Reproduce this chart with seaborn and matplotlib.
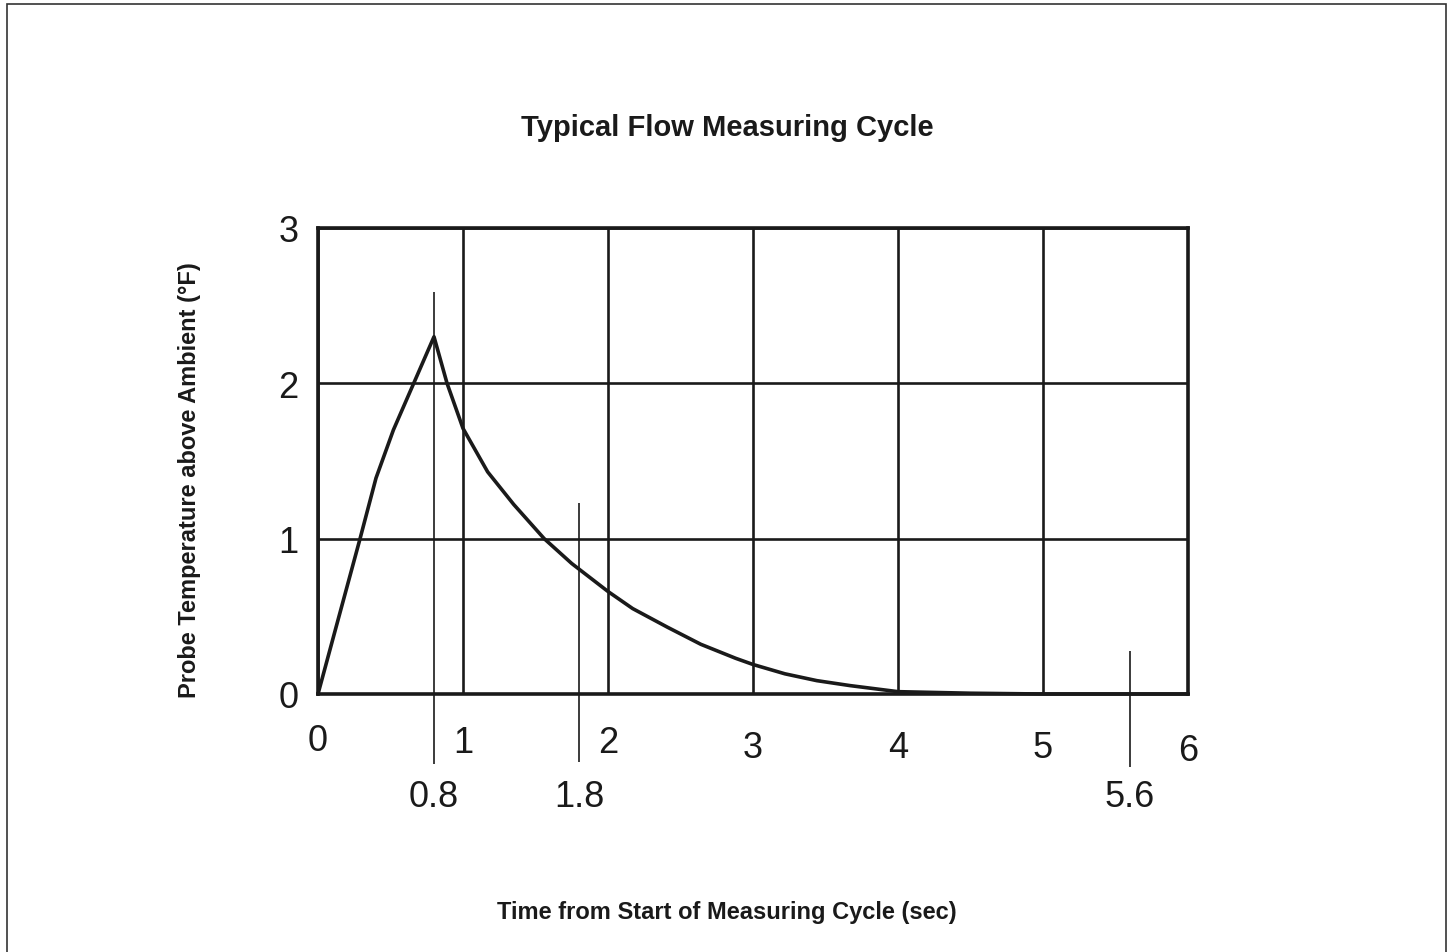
import numpy as np
import pandas as pd
import matplotlib
matplotlib.use("Agg")
import matplotlib.pyplot as plt
import matplotlib.transforms as mtransforms
from matplotlib.patches import Rectangle
import seaborn as sns

sns.set_theme(style="white")
plt.rcParams['font.family'] = ['Liberation Sans', 'DejaVu Sans']

# Data: heating ramp, then cool-down
time_sec = [0.0, 0.11, 0.29, 0.40, 0.52, 0.66, 0.8,
            0.89, 1.0, 1.17, 1.35, 1.56, 1.75, 2.0, 2.17, 2.41, 2.64,
            2.88, 3.0, 3.22, 3.44, 3.67, 3.89, 4.0, 4.5, 5.0, 5.5, 6.0]
temp_f = [0.0, 0.38, 1.0, 1.39, 1.70, 2.0, 2.3,
          2.0, 1.71, 1.43, 1.22, 1.0, 0.84, 0.66, 0.55, 0.43, 0.32,
          0.23, 0.19, 0.13, 0.086, 0.054, 0.028, 0.015, 0.005, 0.0, 0.0, 0.0]

x_ticks = [0, 1, 2, 3, 4, 5, 6]
y_ticks = [0, 1, 2, 3]
# extra markers: time, top of line, bottom of line
mark_times = [0.8, 1.8, 5.6]
mark_labels = ['0.8', '1.8', '5.6']
mark_tops = [2.59, 1.23, 0.28]
mark_bottoms = [-0.45, -0.44, -0.47]

df = pd.DataFrame({'time': time_sec, 'temp': temp_f})

fig = plt.figure(figsize=(14.52, 9.53), dpi=100)
ax = fig.add_axes([318/1452, 1-695/953, (1188-318)/1452, (695-229)/953])

sns.lineplot(data=df, x='time', y='temp', ax=ax, color='#1a1a1a',
             linewidth=2.6, clip_on=False, zorder=4,
             solid_joinstyle='round', solid_capstyle='round')

ax.set_xlim(0, 6)
ax.set_ylim(0, 3)
ax.set_xticks(x_ticks)
ax.set_yticks(y_ticks)
ax.set_xticklabels([str(v) for v in x_ticks], fontsize=26, color='#1a1a1a')
ax.set_yticklabels([str(v) for v in y_ticks], fontsize=26, color='#1a1a1a')
ax.tick_params(axis='both', length=0)
ax.tick_params(axis='x', pad=21)
ax.tick_params(axis='y', pad=14)
ax.set_xlabel('')
ax.set_ylabel('')

# labels sag a little to the right, as in the drawing
offsets = [0, 2, 2, 7, 7, 7, 10]
for lbl, dy in zip(ax.get_xticklabels(), offsets):
    lbl.set_transform(lbl.get_transform() +
                      mtransforms.ScaledTranslation(0, -dy/100, fig.dpi_scale_trans))

ax.grid(True, color='#1a1a1a', linewidth=1.9)
for s in ax.spines.values():
    s.set_color('#1a1a1a')
    s.set_linewidth(2.6)

# marker lines and labels below the axis
ax.vlines(mark_times, mark_bottoms, mark_tops, color='#1a1a1a',
          linewidth=1.2, clip_on=False, zorder=3)
for t, lab in zip(mark_times, mark_labels):
    ax.text(t, -0.66, lab, ha='center', va='center', fontsize=26,
            color='#1a1a1a', clip_on=False)

# titles
fig.text(727/1452, 1-128/953, 'Typical Flow Measuring Cycle', ha='center',
         va='center', fontsize=21, fontweight='bold', color='#1a1a1a')
fig.text(727/1452, 1-913/953, 'Time from Start of Measuring Cycle (sec)',
         ha='center', va='center', fontsize=17, fontweight='bold', color='#1a1a1a')
fig.text(190/1452, 1-480/953, 'Probe Temperature above Ambient (°F)',
         ha='center', va='center', rotation=90, fontsize=17,
         fontweight='bold', color='#1a1a1a')

# outer frame
fig.patches.append(Rectangle((7/1452, -0.05), (1446-7)/1452, 1.05 - 5/953,
                             transform=fig.transFigure, fill=False,
                             edgecolor='#333333', linewidth=1.2))

fig.savefig('out.png', dpi=100)
